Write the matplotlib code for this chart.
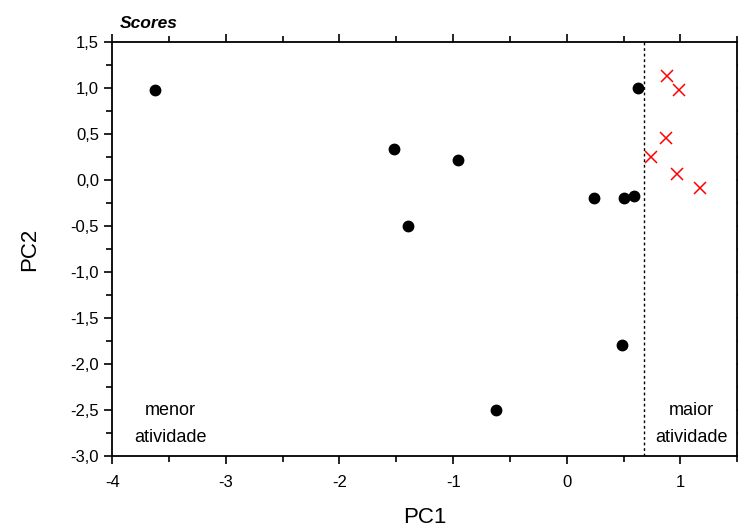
import matplotlib
matplotlib.use("Agg")
import matplotlib.pyplot as plt
from matplotlib.ticker import MultipleLocator, FuncFormatter

plt.rcParams['font.family'] = ['Liberation Sans', 'DejaVu Sans']

# menor atividade (black dots)
pc1_low = [-3.62, -1.52, -0.96, -1.40, 0.24, 0.50, 0.59, 0.63, 0.49, -0.62]
pc2_low = [0.98, 0.34, 0.22, -0.50, -0.20, -0.20, -0.17, 1.00, -1.79, -2.50]

# maior atividade (red crosses)
pc1_high = [0.88, 0.99, 0.87, 0.74, 0.97, 1.17]
pc2_high = [1.13, 0.98, 0.46, 0.25, 0.07, -0.09]

cutoff = 0.68

fig = plt.figure(figsize=(7.38, 5.27), dpi=100)
ax = fig.add_axes([0.152, 0.135, 0.847, 0.785])

ax.plot(pc1_low, pc2_low, 'o', color='black', markersize=7.5, linestyle='none')
ax.plot(pc1_high, pc2_high, 'x', color='red', markersize=9, markeredgewidth=1.1,
        linestyle='none')
ax.axvline(cutoff, color='black', linestyle=(0, (2, 2)), linewidth=1)

ax.set_xlim(-4, 1.5)
ax.set_ylim(-3.0, 1.5)

ax.xaxis.set_major_locator(MultipleLocator(1))
ax.xaxis.set_minor_locator(MultipleLocator(0.5))
ax.yaxis.set_major_locator(MultipleLocator(0.5))
ax.yaxis.set_minor_locator(MultipleLocator(0.25))
ax.xaxis.set_major_formatter(FuncFormatter(lambda v, p: f"{v:.0f}"))
ax.yaxis.set_major_formatter(FuncFormatter(lambda v, p: f"{v:.1f}".replace('.', ',')))

ax.tick_params(which='both', direction='out', top=True, right=True,
               labelsize=12, width=1.2)
ax.tick_params(which='major', length=6)
ax.tick_params(which='minor', length=4)
ax.tick_params(axis='x', which='major', pad=8)
for s in ax.spines.values():
    s.set_linewidth(1.3)

ax.set_xlabel('PC1', fontsize=16, labelpad=12)
ax.set_ylabel('PC2', fontsize=16, labelpad=22)

ax.text(0.012, 1.027, 'Scores', transform=ax.transAxes, fontsize=12.5,
        fontweight='bold', fontstyle='italic', ha='left', va='bottom')

ax.text(-3.49, -2.65, 'menor\natividade', fontsize=13, ha='center', va='center',
        linespacing=1.75)
ax.text(1.1, -2.65, 'maior\natividade', fontsize=13, ha='center', va='center',
        linespacing=1.75)

fig.savefig('out.png', dpi=100)
